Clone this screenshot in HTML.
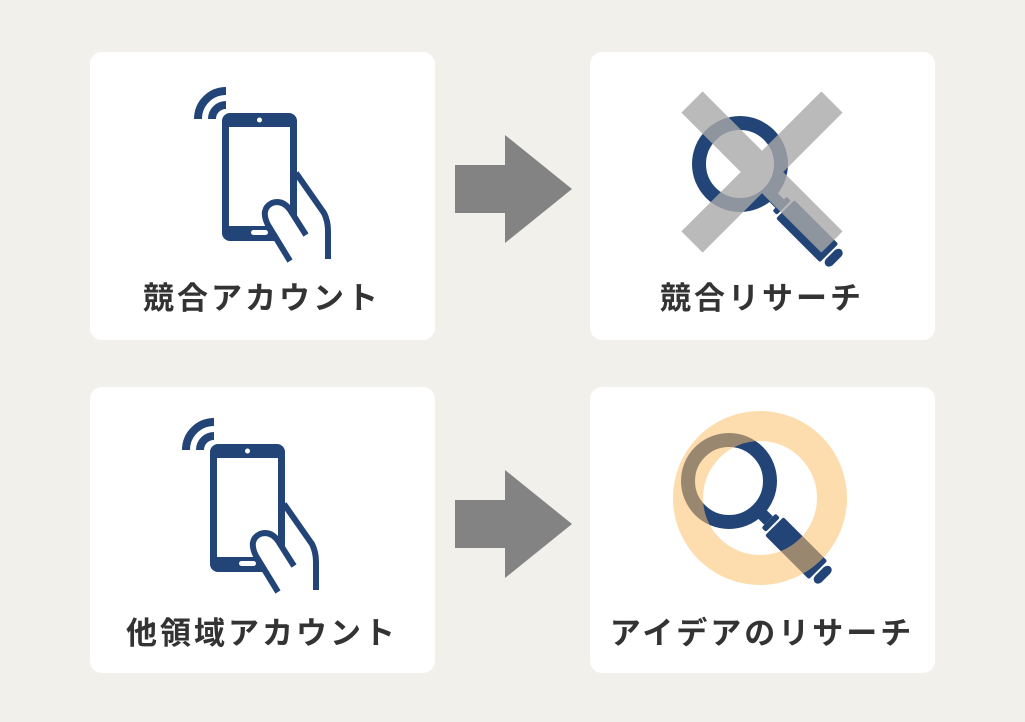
<!DOCTYPE html>
<html><head><meta charset="utf-8"><style>
html,body{margin:0;padding:0;background:#f2f0eb;}
svg{display:block}
text{font-family:"Liberation Sans","Noto Sans CJK JP",sans-serif;font-weight:bold;fill:#333;font-size:31px;letter-spacing:3px}
</style></head><body>
<svg width="1025" height="722" viewBox="0 0 1025 722">
<rect width="1025" height="722" fill="#f2f0eb"/>
<defs>
<g id="phone">
  <path d="M-8,6 A28,28 0 0 1 20,-22" stroke="#224477" stroke-width="8" fill="none"/>
  <path d="M6,6 A14,14 0 0 1 20,-8" stroke="#224477" stroke-width="8" fill="none"/>
  <rect x="16" y="0" width="75" height="128" rx="8" fill="#224477"/>
  <rect x="23" y="14" width="61" height="99" fill="#fff"/>
  <circle cx="53.5" cy="7" r="2.5" fill="#fff"/>
  <rect x="45" y="117" width="17" height="5" rx="2.5" fill="#fff"/>
  <path d="M90,60 L118,100 Q122,108 122,118 L122,146" stroke="#224477" stroke-width="6" fill="none"/>
  <path d="M84,148 L62,112 Q54,96 66,90 Q78,86 86,100 L100,122" stroke="#224477" stroke-width="6" fill="#fff"/>
</g>
<g id="mag">
  <circle cx="0" cy="0" r="41" stroke="#224477" stroke-width="14" fill="none"/>
  <g transform="rotate(45)">
    <rect x="46" y="-6" width="10" height="12" fill="#224477"/>
    <rect x="56" y="-10" width="6" height="20" rx="2" fill="#224477"/>
    <rect x="64" y="-13" width="62" height="26" rx="2" fill="#224477"/>
    <rect x="128" y="-11" width="9" height="22" rx="5" fill="#224477"/>
  </g>
</g>
<g id="arrow">
  <rect x="0" y="30" width="55" height="48" fill="#838383"/>
  <polygon points="50,0 117,54 50,108" fill="#838383"/>
</g>
</defs>
<rect x="90" y="52" width="345" height="288" rx="12" fill="#fff"/>
<rect x="590" y="52" width="345" height="288" rx="12" fill="#fff"/>
<rect x="90" y="387" width="345" height="286" rx="12" fill="#fff"/>
<rect x="590" y="387" width="345" height="286" rx="12" fill="#fff"/>

<use href="#phone" transform="translate(206,113)"/>
<use href="#phone" transform="translate(194,444)"/>
<use href="#arrow" transform="translate(455,135)"/>
<use href="#arrow" transform="translate(455,470)"/>

<use href="#mag" transform="translate(740,164)"/>
<g stroke="#aaaaaa" stroke-width="30" opacity="0.8">
  <line x1="692" y1="102" x2="832" y2="242"/>
  <line x1="832" y1="102" x2="692" y2="242"/>
</g>

<use href="#mag" transform="translate(729,481)"/>
<circle cx="760" cy="498" r="72" stroke="#fbbf6b" stroke-width="30" fill="none" opacity="0.55"/>

<text x="262" y="309" text-anchor="middle">競合アカウント</text>
<text x="762" y="309" text-anchor="middle">競合リサーチ</text>
<text x="262" y="644" text-anchor="middle">他領域アカウント</text>
<text x="762" y="644" text-anchor="middle">アイデアのリサーチ</text>
</svg>
</body></html>
